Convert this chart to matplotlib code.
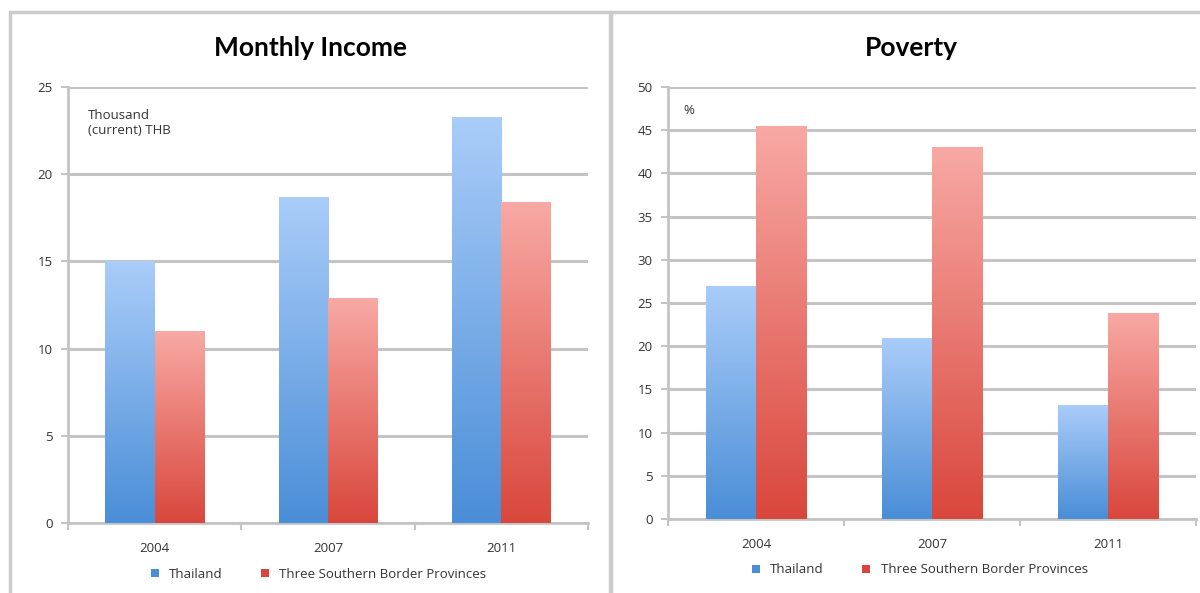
import numpy as np
import matplotlib.pyplot as plt
from matplotlib.colors import LinearSegmentedColormap
from matplotlib.lines import Line2D
from matplotlib.patches import Rectangle

years = ["2004", "2007", "2011"]
series_names = ["Thailand", "Three Southern Border Provinces"]

income_thailand = [15.0, 18.7, 23.3]
income_south = [11.0, 12.9, 18.4]

poverty_thailand = [27.0, 21.0, 13.2]
poverty_south = [45.5, 43.0, 23.9]

BLUE_TOP, BLUE_BOT = "#aacdf9", "#4a8ed7"
RED_TOP, RED_BOT = "#f8a9a4", "#d9473c"
GRID = "#c4c4c4"
TEXT = "#333333"

plt.rcParams["font.family"] = ["Open Sans", "DejaVu Sans"]

blue_cmap = LinearSegmentedColormap.from_list("blue_grad", [BLUE_BOT, BLUE_TOP])
red_cmap = LinearSegmentedColormap.from_list("red_grad", [RED_BOT, RED_TOP])


def gradient_bars(ax, xs, heights, width, cmap):
    bars = ax.bar(xs, heights, width, color="none", edgecolor="none", zorder=3)
    grad = np.linspace(0, 1, 256).reshape(-1, 1)
    for bar in bars:
        x0, y0 = bar.get_x(), bar.get_y()
        w, h = bar.get_width(), bar.get_height()
        im = ax.imshow(grad, cmap=cmap, origin="lower", aspect="auto",
                       extent=(x0, x0 + w, y0, y0 + h), zorder=3)
        im.set_clip_path(bar)
    return bars


def draw_panel(ax, a_vals, b_vals, ymax, step, unit_text, unit_pos, legend_x):
    x = np.arange(len(years))
    w = 0.285
    gradient_bars(ax, x - w / 2, a_vals, w, blue_cmap)
    gradient_bars(ax, x + w / 2, b_vals, w, red_cmap)

    ax.set_xlim(-0.5, len(years) - 0.5)
    ax.set_ylim(0, ymax)
    ax.set_yticks(np.arange(0, ymax + 1, step))
    ax.yaxis.grid(True, color=GRID, linewidth=2.2, zorder=0)
    ax.set_axisbelow(True)

    # category labels in the middle, tick marks on the boundaries
    ax.set_xticks(x)
    ax.set_xticklabels(years)
    ax.set_xticks(np.arange(-0.5, len(years), 1), minor=True)
    ax.tick_params(axis="x", which="major", length=0, pad=14,
                   labelsize=9.5, labelcolor=TEXT)
    ax.tick_params(axis="x", which="minor", length=5, color=GRID, width=1.5)
    ax.tick_params(axis="y", length=5, color=GRID, width=1.5, pad=6,
                   labelsize=9.5, labelcolor=TEXT)

    for side in ("top", "right"):
        ax.spines[side].set_visible(False)
    for side in ("left", "bottom"):
        ax.spines[side].set_color(GRID)
        ax.spines[side].set_linewidth(2)

    ax.text(unit_pos[0], unit_pos[1], unit_text, transform=ax.transAxes,
            fontsize=9.5, color=TEXT, va="top", ha="left", linespacing=1.25)

    handles = [
        Line2D([], [], marker="s", linestyle="none", markersize=5.5,
               color=BLUE_BOT, markeredgewidth=0),
        Line2D([], [], marker="s", linestyle="none", markersize=5.5,
               color=RED_BOT, markeredgewidth=0),
    ]
    ax.legend(handles, series_names, loc="upper center",
              bbox_to_anchor=(legend_x, -0.075), ncol=2, frameon=False,
              fontsize=9.5, handletextpad=0.1, columnspacing=2.2,
              labelcolor=TEXT)


fig = plt.figure(figsize=(12, 5.93), dpi=100, facecolor="white")

# panel frames
fig.add_artist(Rectangle((10 / 1200, -0.02), 600 / 1200, 1 - 12 / 593 + 0.02,
                         transform=fig.transFigure, fill=False,
                         edgecolor="#cccccc", linewidth=2.5))
fig.add_artist(Rectangle((611 / 1200, -0.02), 600 / 1200, 1 - 12 / 593 + 0.02,
                         transform=fig.transFigure, fill=False,
                         edgecolor="#cccccc", linewidth=2.5))

ax1 = fig.add_axes([68 / 1200, 70 / 593, 520 / 1200, 436 / 593])
ax2 = fig.add_axes([668 / 1200, 74 / 593, 528 / 1200, 432 / 593])

draw_panel(ax1, income_thailand, income_south, 25, 5,
           "Thousand\n(current) THB", (0.038, 0.95), 0.473)
draw_panel(ax2, poverty_thailand, poverty_south, 50, 5,
           "%", (0.03, 0.96), 0.468)

# titles centred on each framed panel
fig.text(310 / 1200, 1 - 48 / 593, "Monthly Income", ha="center", va="center",
         fontsize=19, fontweight="bold", fontfamily="Lato")
fig.text(911 / 1200, 1 - 48 / 593, "Poverty", ha="center", va="center",
         fontsize=19, fontweight="bold", fontfamily="Lato")

fig.savefig("out.png", dpi=100, facecolor="white")
